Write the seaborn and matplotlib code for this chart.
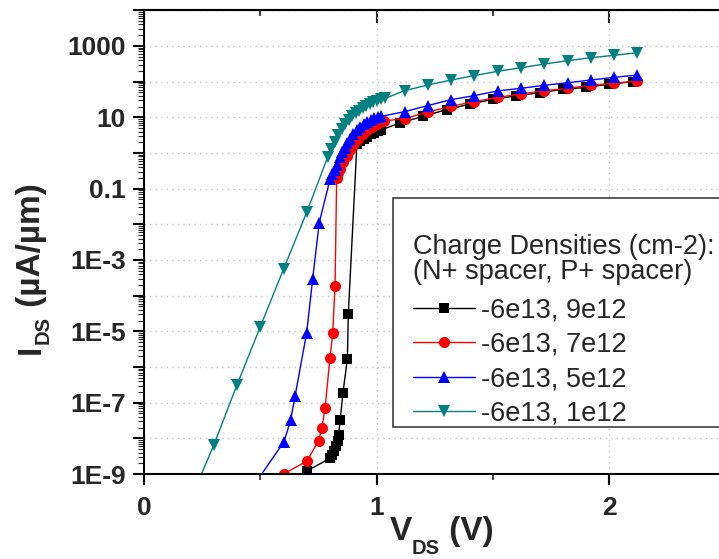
import numpy as np
import pandas as pd
import matplotlib
matplotlib.use('Agg')
import matplotlib.pyplot as plt
import seaborn as sns
from matplotlib.ticker import FixedLocator, FuncFormatter, MultipleLocator, NullFormatter, LogLocator
from matplotlib.patches import Rectangle

sns.set_theme(style='white')
plt.rcParams['font.family'] = ['Liberation Sans', 'DejaVu Sans']

# ---------------- data ----------------
legend_title_lines = ["Charge Densities (cm-2):", "(N+ spacer, P+ spacer)"]
series_labels = ['-6e13, 9e12', '-6e13, 7e12', '-6e13, 5e12', '-6e13, 1e12']

vds_9e12 = [0.70, 0.80, 0.808, 0.817, 0.825, 0.832, 0.836, 0.843, 0.855, 0.874, 0.878,
            0.915, 0.93, 0.945, 0.96, 0.975, 0.99, 1.005, 1.02,
            1.10, 1.20, 1.30, 1.40, 1.50, 1.60, 1.70, 1.80, 1.90, 2.00, 2.10]
ids_9e12 = [1.23e-9, 2.75e-9, 3.4e-9, 4.4e-9, 6.0e-9, 8.3e-9, 1.23e-8, 3.2e-8, 1.9e-7, 1.66e-6, 3.1e-5,
            1.78, 2.14, 2.51, 2.88, 3.31, 3.72, 4.07, 4.47,
            6.9, 10.7, 16.4, 23.4, 32.0, 39.8, 49.0, 61.0, 69.0, 85.0, 100.0]

vds_7e12 = [0.60, 0.70, 0.75, 0.764, 0.778, 0.799, 0.811, 0.821,
            0.828, 0.835, 0.842, 0.856, 0.871, 0.885, 0.90, 0.92, 0.94, 0.96, 0.98, 1.00, 1.03,
            1.12, 1.22, 1.32, 1.42, 1.52, 1.62, 1.72, 1.82, 1.92, 2.02, 2.12]
ids_7e12 = [1.0e-9, 2.3e-9, 8.5e-9, 1.9e-8, 6.9e-8, 1.74e-6, 9.1e-6, 1.9e-4,
            0.20, 0.28, 0.355, 0.56, 0.83, 1.2, 1.66, 2.4, 3.3, 4.37, 5.5, 6.6, 7.9,
            9.2, 14.1, 20.4, 27.5, 36.3, 45.0, 55.7, 65.0, 79.0, 90.0, 104.0]

vds_5e12 = [0.40, 0.602, 0.630, 0.649, 0.699, 0.725, 0.753,
            0.80, 0.81, 0.82, 0.83, 0.842, 0.852, 0.862, 0.871, 0.885, 0.90, 0.914, 0.93,
            0.945, 0.96, 0.975, 0.99, 1.005, 1.02,
            1.12, 1.22, 1.32, 1.42, 1.52, 1.62, 1.72, 1.82, 1.92, 2.02, 2.12]
ids_5e12 = [1.0e-10, 8.1e-9, 3.2e-8, 1.5e-7, 9.1e-6, 3.0e-4, 0.011,
            0.19, 0.25, 0.33, 0.47, 0.76, 1.07, 1.41, 1.86, 2.5, 3.4, 4.37, 5.4,
            6.5, 7.6, 8.5, 9.3, 10.0, 10.7,
            14.4, 21.4, 31.3, 40.7, 55.0, 65.0, 79.0, 93.0, 111.0, 132.0, 153.0]

vds_1e12 = [0.20, 0.30, 0.40, 0.50, 0.60, 0.70,
            0.79, 0.805, 0.82, 0.835, 0.85, 0.865, 0.88, 0.895, 0.91, 0.925, 0.94, 0.955,
            0.97, 0.985, 1.00, 1.02, 1.036,
            1.12, 1.22, 1.32, 1.42, 1.52, 1.62, 1.72, 1.82, 1.92, 2.02, 2.12]
ids_1e12 = [1.9e-10, 6.5e-9, 3.2e-7, 1.35e-5, 5.6e-4, 0.0224,
            0.79, 1.32, 2.09, 3.16, 4.8, 6.6, 8.5, 10.7, 12.9, 15.1, 17.8, 20.4,
            23.4, 26.3, 28.8, 31.6, 33.9,
            56.0, 80.5, 111.0, 148.0, 195.0, 245.0, 312.0, 386.0, 469.0, 547.0, 646.0]

x_ticks = [0, 1, 2]
y_label_decades = [1e-9, 1e-7, 1e-5, 1e-3, 1e-1, 1e1, 1e3]

# ---------------- figure ----------------
W, H = 719, 559
fig = plt.figure(figsize=(W / 100, H / 100), dpi=100)
ax_left, ax_right, ax_top, ax_bot = 144, 144 + 2.5 * 232.7, 10.3, 474
ax = fig.add_axes([ax_left / W, 1 - ax_bot / H, (ax_right - ax_left) / W, (ax_bot - ax_top) / H])

styles = [
    dict(color='#000000', marker='s', markersize=6.5),
    dict(color='#ff0000', marker='o', markersize=8),
    dict(color='#0000ff', marker='^', markersize=8.5),
    dict(color='#008080', marker='v', markersize=8.5),
]
xs = [vds_9e12, vds_7e12, vds_5e12, vds_1e12]
ys = [ids_9e12, ids_7e12, ids_5e12, ids_1e12]
for x, y, lab, st in zip(xs, ys, series_labels, styles):
    df = pd.DataFrame({'V': x, 'I': y})
    sns.lineplot(data=df, x='V', y='I', ax=ax, sort=False, estimator=None,
                 color=st['color'], marker=st['marker'], markersize=st['markersize'],
                 markeredgewidth=0, linewidth=1.0, label=lab)

ax.set_yscale('log')
ax.set_xlim(0, 2.5)
ax.set_ylim(1e-9, 1e4)
ax.set_xlabel('')
ax.set_ylabel('')

# ticks
ax.xaxis.set_major_locator(FixedLocator(x_ticks))
ax.xaxis.set_minor_locator(MultipleLocator(0.5))
ax.yaxis.set_major_locator(FixedLocator([10.0 ** e for e in range(-9, 5)]))
ax.yaxis.set_minor_locator(LogLocator(base=10, subs=np.arange(2, 10), numticks=40))

def yfmt(v, pos):
    e = int(round(np.log10(v)))
    if not any(abs(np.log10(v) - np.log10(d)) < 1e-6 for d in y_label_decades):
        return ''
    if e < -1:
        return '1E%d' % e
    return '%g' % v

ax.yaxis.set_major_formatter(FuncFormatter(yfmt))
ax.yaxis.set_minor_formatter(NullFormatter())

ax.tick_params(axis='both', which='major', labelsize=19, width=1.5, color='black')
ax.tick_params(axis='x', which='major', direction='out', length=8, bottom=True, pad=8)
ax.tick_params(axis='x', which='minor', direction='out', length=4, width=1.2, bottom=True)
ax.tick_params(axis='y', which='major', direction='out', length=8, left=True, pad=5)
ax.tick_params(axis='y', which='minor', direction='out', length=4, width=0.8, left=True)
for lbl in ax.get_xticklabels() + ax.get_yticklabels():
    lbl.set_fontweight('bold')

# top / right inward ticks
sx = ax.secondary_xaxis('top')
sx.xaxis.set_major_locator(FixedLocator(x_ticks))
sx.xaxis.set_minor_locator(MultipleLocator(0.5))
sx.tick_params(axis='x', which='major', direction='in', length=9, width=1.5, labeltop=False, top=True)
sx.tick_params(axis='x', which='minor', direction='in', length=4, width=1.2, top=True)
sx.spines['top'].set_linewidth(1.5)
sy = ax.secondary_yaxis('right')
sy.yaxis.set_major_locator(FixedLocator([10.0 ** e for e in range(-9, 5)]))
sy.yaxis.set_minor_locator(FixedLocator([]))
sy.tick_params(axis='y', which='major', direction='in', length=5, width=1.5, labelright=False, right=True)

for s in ax.spines.values():
    s.set_linewidth(1.5)
    s.set_color('black')

ax.grid(True, which='major', axis='both', color='#c8c8c8', linestyle=(0, (1, 3)), linewidth=1.0)
ax.set_axisbelow(True)

# ---------------- axis labels (main letter + lowered subscript) ----------------
renderer = fig.canvas.get_renderer()

def text_width(s, size):
    t = fig.text(0, 0, s, fontsize=size, fontweight='bold')
    w = t.get_window_extent(renderer).width
    t.remove()
    return w

def fx(px):
    return px / W

def fy(py):
    return 1 - py / H

MAIN, SUB = 24, 14.5
# x label: "V" + "DS" + " (V)"
parts_x = [('V', MAIN, 0), ('DS', SUB, 14), (' (V)', MAIN, 0)]
widths = [text_width(s, sz) for s, sz, _ in parts_x]
cx, base = 441.5, 540
x0 = cx - sum(widths) / 2
for (s, sz, drop), w in zip(parts_x, widths):
    fig.text(fx(x0), fy(base + drop), s, fontsize=sz, fontweight='bold', ha='left', va='baseline')
    x0 += w

# y label: "I" + "DS" + " (µA/µm)" rotated 90
parts_y = [('I', MAIN, 0), ('DS', SUB, 9), (' (µA/µm)', MAIN, 0)]
widths = [text_width(s, sz) for s, sz, _ in parts_y]
cy, basex = 268.5, 40
y0 = cy + sum(widths) / 2
for (s, sz, drop), w in zip(parts_y, widths):
    fig.text(fx(basex + drop), fy(y0), s, fontsize=sz, fontweight='bold', rotation=90,
             rotation_mode='anchor', ha='left', va='baseline')
    y0 -= w

# ---------------- legend ----------------
def to_ax(px, py):
    return (px - ax_left) / (ax_right - ax_left), (ax_bot - py) / (ax_bot - ax_top)

lx0, ly0 = to_ax(393, 427)
lx1, ly1 = to_ax(740, 198)
ax.add_patch(Rectangle((lx0, ly0), lx1 - lx0, ly1 - ly0, transform=ax.transAxes,
                       facecolor='white', edgecolor='#404040', linewidth=1.2, zorder=5, clip_on=False))

LEG = 19.5
for line, by in zip(legend_title_lines, [254, 279]):
    fig.text(fx(413), fy(by), line, fontsize=LEG, ha='left', va='baseline', zorder=7)

handles, labels = ax.get_legend_handles_labels()
if ax.get_legend() is not None:
    ax.get_legend().remove()
ancx, ancy = to_ax(413, 362)
leg = ax.legend(handles, labels, loc='center left', bbox_to_anchor=(ancx, ancy),
                frameon=False, fontsize=LEG, borderpad=0, borderaxespad=0,
                handlelength=2.3, handletextpad=0.2, labelspacing=0.31)
leg.set_zorder(6)

fig.savefig('out.png', dpi=100)
